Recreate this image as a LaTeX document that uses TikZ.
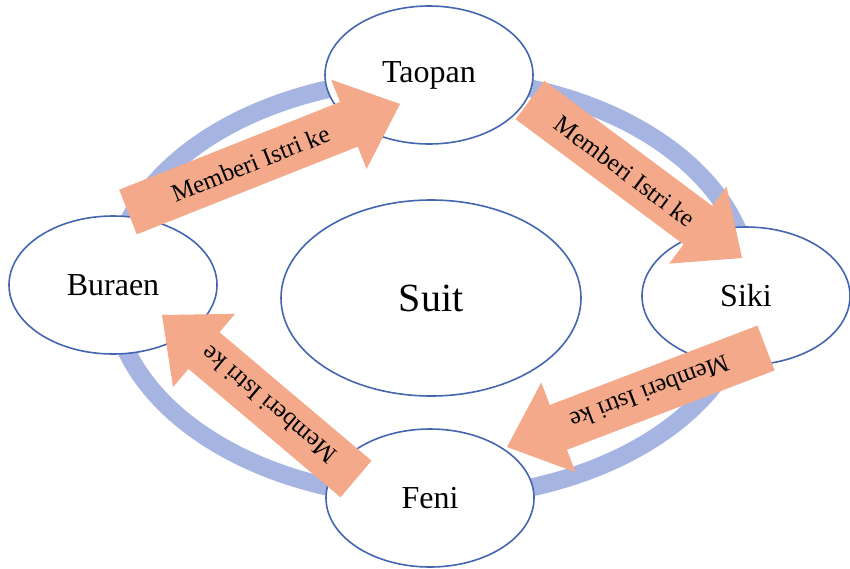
\documentclass[tikz,border=0pt]{standalone}
\usepackage{fontspec}
\setmainfont{Liberation Serif}
\usetikzlibrary{calc,shapes.geometric}
\definecolor{ringblue}{RGB}{166,180,226}
\definecolor{salmonfill}{RGB}{244,170,138}
\definecolor{edgeblue}{RGB}{68,102,176}
\newcommand\clanarrow[4]{%
  \coordinate (#1base) at ($(#2)!55pt!(#1)$);
  \fill[salmonfill] ($(#1)!24pt!90:(#2)$) -- ($(#1base)!24pt!90:(#2)$) -- ($(#1base)!48pt!90:(#2)$) -- (#2)
    -- ($(#1base)!48pt!-90:(#2)$) -- ($(#1base)!24pt!-90:(#2)$) -- ($(#1)!24pt!-90:(#2)$) -- cycle;
  \node[arrowtext, rotate=#3] (#4) at ($(#1)!0.45!(#2)$) {Memberi Istri ke};
}
\begin{document}
\begin{tikzpicture}[x=1pt,y=-1pt,
  clan/.style={draw=edgeblue, line width=1.6pt, fill=white, ellipse, minimum width=208pt, minimum height=138pt, inner sep=0pt, font=\fontsize{32}{38}\selectfont},
  suitbox/.style={clan, minimum width=300pt, minimum height=196pt, font=\fontsize{40}{46}\selectfont},
  arrowtext/.style={font=\fontsize{25}{30}\selectfont, inner sep=0pt}]
\useasboundingbox (0,0) rectangle (850,568);
\fill[white] (0,0) rectangle (850,568);
\draw[ringblue, line width=18pt] (431,288) ellipse [x radius=319pt, y radius=210pt];
\node[clan] (taopan) at (429,75) {Taopan};
\node[clan] (buraen) at (113,285) {Buraen};
\node[clan] (siki) at (746,296) {Siki};
\node[clan] (feni) at (430,498) {Feni};
\node[suitbox] (suit) at (431,298) {Suit};
\coordinate (t1) at (128,212); \coordinate (p1) at (400,104);
\coordinate (t2) at (530,100); \coordinate (p2) at (742,258);
\coordinate (t3) at (766,348); \coordinate (p3) at (507,447);
\coordinate (t4) at (356,479); \coordinate (p4) at (162,315);
\clanarrow{t1}{p1}{21.7}{lab1}
\clanarrow{t2}{p2}{-36.7}{lab2}
\clanarrow{t3}{p3}{200.9}{lab3}
\clanarrow{t4}{p4}{139.8}{lab4}
\end{tikzpicture}
\end{document}
